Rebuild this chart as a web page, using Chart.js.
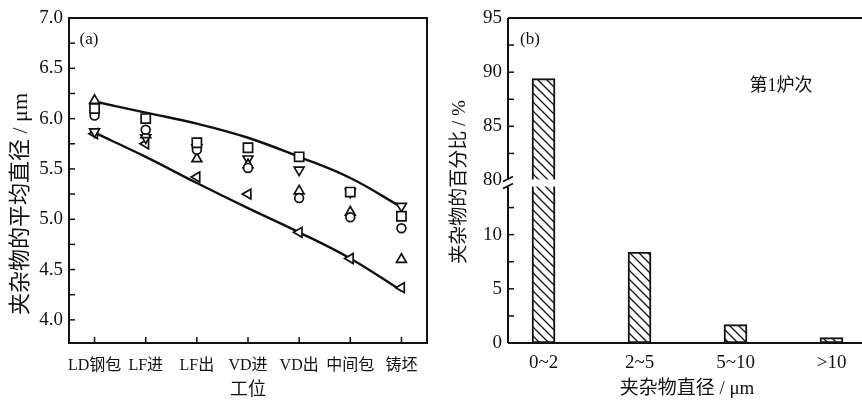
<!DOCTYPE html>
<html><head><meta charset="utf-8">
<script src="https://cdn.jsdelivr.net/npm/chart.js@4.4.1/dist/chart.umd.min.js"></script>
<style>
html,body{margin:0;padding:0;background:#fff;overflow:hidden;width:862px;height:402px;}
#wa{position:absolute;left:0;top:0;width:440px;height:402px;}
#wb{position:absolute;left:440px;top:0;width:432px;height:402px;}
</style></head><body>
<div id="wa"><canvas id="ca" width="440" height="402"></canvas></div>
<div id="wb"><canvas id="cb" width="432" height="402"></canvas></div>
<script>
// ---------- data: panel (a) ----------
const stations = ['LD钢包','LF进','LF出','VD进','VD出','中间包','铸坯'];
const heatSquare   = [6.10, 6.00, 5.76, 5.71, 5.62, 5.27, 5.03];
const heatCircle   = [6.03, 5.89, 5.69, 5.51, 5.21, 5.02, 4.91];
const heatTriUp    = [6.18, 5.84, 5.60, 5.54, 5.28, 5.07, 4.60];
const heatTriDown  = [5.87, 5.81, 5.71, 5.60, 5.49, 5.27, 5.13];
const heatTriLeft  = [5.85, 5.75, 5.42, 5.25, 4.87, 4.61, 4.32];
const upperBound   = [6.17, 6.06, 5.95, 5.81, 5.62, 5.41, 5.12];
const lowerBound   = [5.86, 5.62, 5.36, 5.11, 4.87, 4.61, 4.29];
const leftYTicks   = [4.0, 4.5, 5.0, 5.5, 6.0, 6.5, 7.0];

// ---------- data: panel (b) ----------
const sizeClasses = ['0~2', '2~5', '5~10', '>10'];
const sizeShare   = [89.4, 8.4, 1.7, 0.5];
const rightYTicks = [0, 5, 10, 80, 85, 90, 95];
const BREAK_LOW = 15, BREAK_HIGH = 80;

const SERIF = "'Liberation Serif','Noto Sans CJK SC',serif";
const INK = '#111';
Chart.defaults.font.family = SERIF;
Chart.defaults.color = INK;
Chart.defaults.animation = false;

function toAxis(v){ return v >= BREAK_HIGH ? v - BREAK_HIGH + BREAK_LOW : v; }
function fromAxis(d){ return d >= BREAK_LOW ? d - BREAK_LOW + BREAK_HIGH : d; }

function text(ctx, s, x, y, size, rot){
  ctx.save();
  ctx.font = size + 'px ' + SERIF;
  ctx.fillStyle = INK; ctx.textAlign = 'center'; ctx.textBaseline = 'middle';
  ctx.translate(x, y); if (rot) ctx.rotate(rot);
  ctx.fillText(s, 0, 0);
  ctx.restore();
}
function seg(ctx, x1, y1, x2, y2){ ctx.beginPath(); ctx.moveTo(x1,y1); ctx.lineTo(x2,y2); ctx.stroke(); }

// ---------- panel (a) ----------
const markerBase = {type:'line', showLine:false, borderColor:INK, backgroundColor:'#fff',
  pointBorderWidth:1.7, pointBackgroundColor:'#fff', pointBorderColor:INK, order:0};
const boundBase = {type:'line', borderColor:INK, borderWidth:2.4, pointRadius:0, tension:0.4, fill:false, order:1};

const frameA = {
  id:'frameA',
  afterDraw(chart){
    const ctx = chart.ctx, a = chart.chartArea, ys = chart.scales.y, xs = chart.scales.x;
    ctx.save(); ctx.strokeStyle = INK; ctx.lineWidth = 2;
    ctx.strokeRect(a.left, a.top, a.right - a.left, a.bottom - a.top);
    ctx.lineWidth = 1.5;
    ys.ticks.forEach(t => { const p = ys.getPixelForValue(t.value); seg(ctx, a.left, p, a.left + 6, p); });
    xs.ticks.forEach((t, i) => { const p = xs.getPixelForTick(i); seg(ctx, p, a.bottom, p, a.bottom - 6); });
    ctx.restore();
    text(ctx, '(a)', a.left + 20, 40, 17);
    text(ctx, '工位', 248, 390, 18);
    text(ctx, '夹杂物的平均直径 / μm', 21, 204, 22, -Math.PI/2);
  }
};

new Chart(document.getElementById('ca'), {
  type:'line',
  data:{
    labels: stations,
    datasets:[
      Object.assign({}, markerBase, {label:'□', data:heatSquare, pointStyle:'rect', pointRadius:6.5}),
      Object.assign({}, markerBase, {label:'○', data:heatCircle, pointStyle:'circle', pointRadius:4.4}),
      Object.assign({}, markerBase, {label:'△', data:heatTriUp, pointStyle:'triangle', pointRadius:5.7}),
      Object.assign({}, markerBase, {label:'▽', data:heatTriDown, pointStyle:'triangle', pointRotation:180, pointRadius:5.7}),
      Object.assign({}, markerBase, {label:'◁', data:heatTriLeft, pointStyle:'triangle', pointRotation:270, pointRadius:5.7}),
      Object.assign({}, boundBase, {label:'upper', data:upperBound}),
      Object.assign({}, boundBase, {label:'lower', data:lowerBound})
    ]
  },
  options:{
    responsive:false, maintainAspectRatio:false,
    layout:{padding:{top:18, right:13, left:0, bottom:0}},
    plugins:{legend:{display:false}, tooltip:{enabled:false}},
    scales:{
      x:{type:'category', offset:true,
         grid:{display:false, drawTicks:false}, border:{display:false},
         ticks:{font:{size:16}, padding:13, maxRotation:0, autoSkip:false},
         afterFit(s){ s.height = 59; }},
      y:{type:'linear', min:3.77, max:7.0,
         grid:{display:false, drawTicks:false}, border:{display:false},
         ticks:{font:{size:19}, padding:6,
           callback:(v)=> leftYTicks.some(t => Math.abs(t - v) < 1e-6) ? v.toFixed(1) : ''},
         afterBuildTicks(s){ const t=[]; for(let k=0;k<=12;k++) t.push({value: leftYTicks[0] + k*0.25}); s.ticks = t; },
         afterFit(s){ s.width = 69; }}
    }
  },
  plugins:[frameA]
});

// ---------- panel (b) ----------
const cb = document.getElementById('cb');
function hatch(){
  const c = document.createElement('canvas'); c.width = 9; c.height = 9;
  const g = c.getContext('2d');
  g.fillStyle = '#fff'; g.fillRect(0,0,9,9);
  g.strokeStyle = INK; g.lineWidth = 1.3; g.beginPath();
  g.moveTo(-1,-1); g.lineTo(10,10);
  g.moveTo(-1,8); g.lineTo(1,10);
  g.moveTo(8,-1); g.lineTo(10,1);
  g.stroke();
  return cb.getContext('2d').createPattern(c, 'repeat');
}

const frameB = {
  id:'frameB',
  afterDatasetsDraw(chart){
    const ctx = chart.ctx, ys = chart.scales.y;
    const yb = ys.getPixelForValue(BREAK_LOW);
    const bar = chart.getDatasetMeta(0).data[0];
    ctx.save();
    ctx.fillStyle = '#fff';
    ctx.fillRect(bar.x - bar.width/2 - 2, yb - 1, bar.width + 4, 7);
    ctx.restore();
  },
  afterDraw(chart){
    const ctx = chart.ctx, a = chart.chartArea, ys = chart.scales.y;
    const yb = ys.getPixelForValue(BREAK_LOW);
    ctx.save(); ctx.strokeStyle = INK; ctx.lineWidth = 2;
    seg(ctx, a.left, a.top, a.right, a.top);
    seg(ctx, a.left, a.bottom, a.right, a.bottom);
    seg(ctx, a.left, a.top, a.left, yb - 1);
    seg(ctx, a.left, yb + 6, a.left, a.bottom);
    seg(ctx, a.right, a.top, a.right, a.bottom);
    ctx.lineWidth = 1.5;
    ys.ticks.forEach(t => {
      const p = ys.getPixelForValue(t.value);
      if (Math.abs(t.value - BREAK_LOW) < 1e-6) return;
      seg(ctx, a.left, p, a.left + 6, p);
    });
    ctx.lineWidth = 1.6;
    seg(ctx, a.left - 5, yb + 1, a.left + 5, yb - 4);
    seg(ctx, a.left - 5, yb + 8, a.left + 5, yb + 3);
    seg(ctx, 855, yb + 1, 862, yb - 4);
    ctx.restore();
    text(ctx, '(b)', a.left + 22, 40, 17);
    text(ctx, '第1炉次', 341, 86, 18);
    text(ctx, '夹杂物直径 / μm', 247, 389, 19);
    text(ctx, '夹杂物的百分比 / %', 20, 182, 19, -Math.PI/2);
  }
};

new Chart(cb, {
  type:'bar',
  data:{
    datasets:[{
      label:'percent',
      data: sizeShare.map((v, i) => ({x:i, y:toAxis(v)})),
      backgroundColor: hatch(), borderColor: INK, borderWidth: 2,
      borderSkipped: false, barThickness: 23
    }]
  },
  options:{
    responsive:false, maintainAspectRatio:false,
    layout:{padding:{top:18, right:4, left:0, bottom:0}},
    plugins:{legend:{display:false}, tooltip:{enabled:false}},
    scales:{
      x:{type:'linear', min:-0.37, max:3.38, offset:false,
         grid:{display:false, drawTicks:false}, border:{display:false},
         ticks:{font:{size:19}, padding:9, maxRotation:0, autoSkip:false,
           callback:(v)=> sizeClasses[v] !== undefined ? sizeClasses[v] : ''},
         afterBuildTicks(s){ s.ticks = sizeClasses.map((c, i) => ({value:i})); },
         afterFit(s){ s.height = 59; }},
      y:{type:'linear', min:0, max:toAxis(rightYTicks[rightYTicks.length-1]),
         grid:{display:false, drawTicks:false}, border:{display:false},
         ticks:{font:{size:19}, padding:6,
           callback:(v)=> { const r = fromAxis(v); return rightYTicks.some(t => Math.abs(t - r) < 1e-6) ? String(r) : ''; }},
         afterBuildTicks(s){ const t=[]; for(let k=0;k<=12;k++) t.push({value:k*2.5}); s.ticks = t; },
         afterFit(s){ s.width = 68; }}
    }
  },
  plugins:[frameB]
});
</script>
</body></html>
